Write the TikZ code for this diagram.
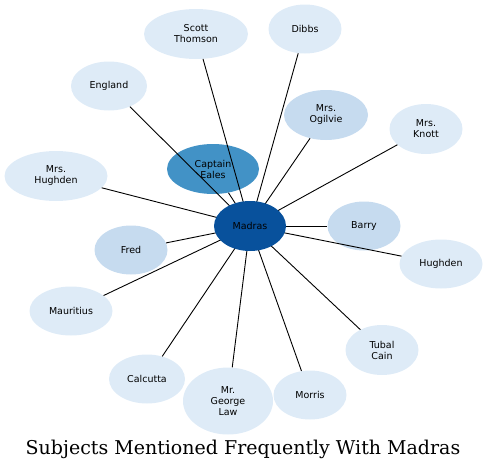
\documentclass[tikz,border=0pt]{standalone}
\usepackage{fontspec}
\setsansfont{DejaVu Sans}
\newfontfamily\titlefont{DejaVu Serif}
\usetikzlibrary{shapes.geometric}

\definecolor{pale}{HTML}{DEEBF7}
\definecolor{light}{HTML}{C6DBEF}
\definecolor{mid}{HTML}{4292C6}
\definecolor{deep}{HTML}{08519C}

\begin{document}
\begin{tikzpicture}[x=1pt, y=-1pt,
    every node/.style={ellipse, inner sep=0pt, minimum width=73pt, minimum height=49pt, align=center, font=\sffamily\fontsize{9.5}{11}\selectfont},
    pale/.style={fill=pale},
    light/.style={fill=light}]
        \useasboundingbox (0,0) rectangle (487,471);

        % Nodes
        \node[fill=mid, minimum width=92pt, minimum height=50pt] (eales) at (213,169) {Captain\\Eales};
        \node[pale, minimum width=104pt, minimum height=50pt] (scott) at (196,34) {Scott\\Thomson};
        \node[pale] (dibbs) at (305,29) {Dibbs};
        \node[pale, minimum width=76pt] (england) at (109,86) {England};
        \node[light, minimum width=84pt, minimum height=50pt] (ogilvie) at (326,115) {Mrs.\\Ogilvie};
        \node[pale, minimum height=50pt] (knott) at (426,129) {Mrs.\\Knott};
        \node[pale, minimum width=103pt, minimum height=50pt] (mrshughden) at (56,176) {Mrs.\\Hughden};
        \node[light] (barry) at (364,226) {Barry};
        \node[light] (fred) at (131,250) {Fred};
        \node[pale, minimum width=83pt] (hughden) at (441,264) {Hughden};
        \node[pale, minimum width=83pt] (mauritius) at (71,311) {Mauritius};
        \node[pale, minimum height=50pt] (tubal) at (382,350) {Tubal\\Cain};
        \node[pale, minimum width=76pt] (calcutta) at (147,379) {Calcutta};
        \node[pale, minimum width=90pt, minimum height=67pt] (law) at (228,401) {Mr.\\George\\Law};
        \node[pale] (morris) at (310,395) {Morris};

        % Edges
        \draw[line width=0.9pt] (eales) -- (250,226);
        \foreach \n in {scott, dibbs, england, ogilvie, knott, mrshughden, barry, fred, hughden, mauritius, tubal, calcutta, law, morris}
            \draw[line width=0.9pt] (250,226) -- (\n);

        \node[fill=deep, minimum width=72pt, minimum height=50pt] (madras) at (250,226) {Madras};

        \node[rectangle, minimum width=0pt, minimum height=0pt, font=\titlefont\fontsize{19}{22}\selectfont] (title) at (243,449) {Subjects Mentioned Frequently With Madras};
\end{tikzpicture}
\end{document}
